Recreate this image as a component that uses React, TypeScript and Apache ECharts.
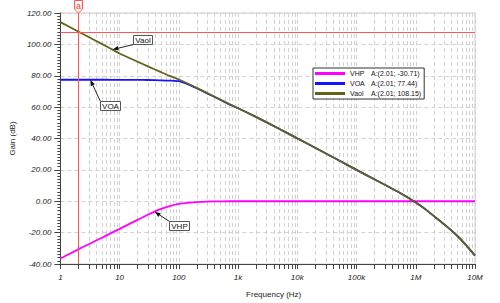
import React, { useEffect, useRef } from "react";
import * as echarts from "echarts";

// ---- data ----
const seriesNames = ["VHP", "VOA", "Vaol"];
const seriesColors = ["#ff00ff", "#1414ff", "#62621a"];
const freqs = [1, 2, 3, 5, 7, 10, 20, 30, 50, 70, 100, 150, 200, 300, 500, 700, 1e3, 2e3, 5e3, 1e4, 2e4, 5e4, 1e5, 2e5, 5e5, 1e6, 1.5e6, 2e6, 3e6, 5e6, 7e6, 1e7];
const vhpGain = [-36.5, -30.7, -27.4, -23.3, -20.5, -17.6, -11.9, -8.6, -4.9, -3.1, -1.7, -0.9, -0.5, -0.2, -0.1, 0, 0, 0, 0, 0, 0, 0, 0, 0, 0, 0, 0, 0, 0, 0, 0, 0];
const voaGain = [77.44, 77.44, 77.44, 77.44, 77.43, 77.42, 77.38, 77.3, 77.1, 76.9, 76.5, 74.2, 72.0, 68.8, 64.7, 61.9, 59.3, 53.8, 46.1, 40.1, 34.1, 26.1, 20.0, 14.0, 6.0, -0.8, -5.5, -9.3, -14.6, -22.0, -27.8, -34.7];
const vaolGain = [114.2, 108.2, 104.7, 100.3, 97.4, 94.2, 89.0, 86.0, 82.3, 79.9, 77.6, 74.6, 72.3, 69.0, 64.8, 62.0, 59.3, 53.8, 46.1, 40.1, 34.1, 26.1, 20.0, 14.0, 6.0, -0.8, -5.5, -9.3, -14.6, -22.0, -27.8, -34.7];
const xTickLabels = ["1", "10", "100", "1k", "10k", "100k", "1M", "10M"];
const cursorFreq = 2.01;
const cursorGains = [-30.71, 77.44, 108.15];
const annotationLabels = ["Vaol", "VOA", "VHP"];
const annotationFreqs = [7.6, 3.2, 39];
const annotationGains = [96.7, 77.44, -6.7];

const FONT = '"Liberation Sans", Arial, sans-serif';
const CURSOR = "#ff5454";
const Y_MIN = -40;
const Y_MAX = 120;

export default function App() {
  const ref = useRef<HTMLDivElement>(null);
  useEffect(() => {
    document.body.style.margin = "0";
    const el = ref.current!;
    const chart = echarts.init(el, null, { renderer: "svg" });

    const minorFreqs: number[] = [];
    for (let d = 0; d < 7; d++) for (let m = 2; m <= 9; m++) minorFreqs.push(m * Math.pow(10, d));

    const seriesGains = [vhpGain, voaGain, vaolGain];
    const lineSeries = seriesNames.map((name, i) => ({
      name,
      type: "line",
      data: freqs.map((f, j) => [f, seriesGains[i][j]]),
      symbol: "none",
      smooth: 0.2,
      color: seriesColors[i],
      lineStyle: { width: 1.8, color: seriesColors[i] },
      z: 10 + i,
    }));

    const option: any = {
      animation: false,
      backgroundColor: "#ffffff",
      textStyle: { fontFamily: FONT },
      grid: { left: 57, right: 25, top: 13, bottom: 36, show: true, borderColor: "#cccccc", borderWidth: 1 },
      legend: {
        data: seriesNames,
        orient: "vertical",
        left: 313,
        top: 68,
        icon: "rect",
        itemWidth: 30,
        itemHeight: 3,
        itemGap: 1,
        padding: [1, 3, 1, 2],
        borderColor: "#333333",
        borderWidth: 1,
        backgroundColor: "#ffffff",
        selectedMode: false,
        z: 30,
        textStyle: {
          fontFamily: FONT,
          fontSize: 7,
          lineHeight: 9,
          color: "#111",
          rich: {
            n: { width: 21, fontSize: 7, lineHeight: 9, fontFamily: FONT },
            v: { fontSize: 7, lineHeight: 9, fontFamily: FONT },
          },
        },
        formatter: (name: string) => {
          const i = seriesNames.indexOf(name);
          return `{n|${name}}{v|A:(${cursorFreq.toFixed(2)}; ${cursorGains[i].toFixed(2)})}`;
        },
      },
      xAxis: {
        type: "log",
        logBase: 10,
        min: 1,
        max: 1e7,
        name: "Frequency (Hz)",
        nameLocation: "middle",
        nameGap: 26,
        nameTextStyle: { fontSize: 8, color: "#222", fontFamily: FONT, padding: [0, 0, 0, 12] },
        axisLine: { show: true, onZero: false, lineStyle: { color: "#444", width: 1 } },
        axisTick: { show: true, length: 5, lineStyle: { color: "#444" } },
        axisLabel: {
          fontSize: 8,
          fontStyle: "italic",
          color: "#222",
          margin: 9,
          fontFamily: FONT,
          formatter: (v: number) => xTickLabels[Math.round(Math.log10(v))] ?? "",
        },
        splitLine: { show: true, lineStyle: { color: "#d2d2d2", type: [4, 3], width: 1 } },
      },
      yAxis: {
        type: "value",
        min: Y_MIN,
        max: Y_MAX,
        interval: 20,
        name: "Gain (dB)",
        nameLocation: "middle",
        nameGap: 42,
        nameTextStyle: { fontSize: 8, color: "#222", fontFamily: FONT },
        axisLine: { show: true, onZero: false, lineStyle: { color: "#444", width: 1 } },
        axisTick: { show: true, length: 6, lineStyle: { color: "#444" } },
        minorTick: { show: true, splitNumber: 10, length: 3, lineStyle: { color: "#444" } },
        axisLabel: {
          fontSize: 8,
          fontStyle: "italic",
          color: "#222",
          margin: 9,
          fontFamily: FONT,
          formatter: (v: number) => v.toFixed(2),
        },
        splitLine: { show: true, lineStyle: { color: "#d2d2d2", type: [4, 3], width: 1 } },
      },
      series: [
        {
          name: "minor",
          type: "custom",
          silent: true,
          clip: false,
          z: 0,
          data: minorFreqs.map((f) => [f, 0]),
          encode: { x: 0, y: 1 },
          renderItem: (_p: any, api: any) => {
            const f = api.value(0);
            const top = api.coord([f, Y_MAX]);
            const bot = api.coord([f, Y_MIN]);
            const x = Math.round(bot[0]) + 0.5;
            return {
              type: "group",
              children: [
                { type: "line", shape: { x1: x, y1: top[1], x2: x, y2: bot[1] }, style: { stroke: "#d2d2d2", lineWidth: 1, lineDash: [4, 3] } },
                { type: "line", shape: { x1: x, y1: bot[1], x2: x, y2: bot[1] + 5 }, style: { stroke: "#444", lineWidth: 1 } },
              ],
            };
          },
        },
        ...lineSeries,
      ],
    };
    chart.setOption(option);

    const px = (f: number, g: number) => chart.convertToPixel({ xAxisIndex: 0, yAxisIndex: 0 }, [f, g]) as number[];
    const graphics: any[] = [];

    // cursor lines
    const [cx, cyTop] = px(cursorFreq, Y_MAX);
    const [, cyBot] = px(cursorFreq, Y_MIN);
    const [xLeft, yCur] = px(1, cursorGains[2]);
    const [xRight] = px(1e7, cursorGains[2]);
    const mx = Math.round(cx) + 0.5;
    const my = Math.round(yCur) + 0.5;
    graphics.push({ type: "line", z: 15, shape: { x1: mx, y1: cyTop, x2: mx, y2: cyBot }, style: { stroke: CURSOR, lineWidth: 1 } });
    graphics.push({ type: "line", z: 15, shape: { x1: xLeft, y1: my, x2: xRight, y2: my }, style: { stroke: CURSOR, lineWidth: 1 } });

    // box offsets relative to arrow target: [dx, dy, w, h, cornerIsBottom]
    const boxGeom = [
      [20, -15, 19, 9, 1],
      [10, 21, 20, 9, 0],
      [14, 9, 20, 9, 0],
    ];
    annotationLabels.forEach((lab, i) => {
      const [tx, ty] = px(annotationFreqs[i], annotationGains[i]);
      const [dx, dy, w, h, bottom] = boxGeom[i];
      const bx = Math.round(tx + dx) + 0.5;
      const by = Math.round(ty + dy) + 0.5;
      const sx = bx;
      const sy = bottom ? by + h : by;
      const ddx = tx - sx, ddy = ty - sy;
      const len = Math.hypot(ddx, ddy);
      const ux = ddx / len, uy = ddy / len;
      const baseX = tx - ux * 6, baseY = ty - uy * 6;
      graphics.push({ type: "line", z: 20, shape: { x1: sx, y1: sy, x2: baseX, y2: baseY }, style: { stroke: "#222", lineWidth: 1 } });
      graphics.push({
        type: "polygon",
        z: 20,
        shape: { points: [[tx, ty], [baseX - uy * 2.2, baseY + ux * 2.2], [baseX + uy * 2.2, baseY - ux * 2.2]] },
        style: { fill: "#111" },
      });
      graphics.push({ type: "rect", z: 20, shape: { x: bx, y: by, width: w, height: h }, style: { fill: "#fff", stroke: "#555", lineWidth: 1 } });
      graphics.push({
        type: "text",
        z: 21,
        x: bx + w / 2,
        y: by + h / 2 + 0.5,
        style: { text: lab, fontSize: 8, fontFamily: FONT, fill: "#111", align: "center", verticalAlign: "middle" },
      });
    });
    // cursor marker "a"
    graphics.push({
      type: "polygon",
      z: 20,
      shape: { points: [[mx - 4, 0.5], [mx + 4, 0.5], [mx + 4, cyTop - 4], [mx, cyTop], [mx - 4, cyTop - 4]] },
      style: { fill: "#fff", stroke: CURSOR, lineWidth: 1 },
    });
    graphics.push({
      type: "text",
      z: 21,
      x: mx,
      y: 5.5,
      style: { text: "a", fontSize: 9, fontFamily: FONT, fill: "#ff3030", align: "center", verticalAlign: "middle" },
    });
    chart.setOption({ graphic: graphics });

    return () => chart.dispose();
  }, []);
  return <div ref={ref} style={{ width: 500, height: 303 }} />;
}
